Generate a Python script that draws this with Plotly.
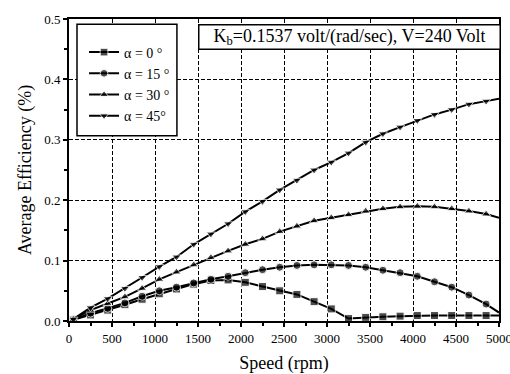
import plotly.graph_objects as go

speed = [50, 250, 450, 650, 850, 1050, 1250, 1450, 1650, 1850, 2050, 2250, 2450,
         2650, 2850, 3050, 3250, 3450, 3650, 3850, 4050, 4250, 4450, 4650, 4850, 5000]

eff_0 = [0.002, 0.010, 0.018, 0.027, 0.036, 0.045, 0.053, 0.061, 0.067, 0.068, 0.064, 0.057, 0.050,
         0.044, 0.032, 0.020, 0.004, 0.006, 0.007, 0.008, 0.009, 0.009, 0.009, 0.009, 0.009, 0.009]
eff_15 = [0.002, 0.013, 0.021, 0.030, 0.041, 0.050, 0.056, 0.063, 0.069, 0.074, 0.080, 0.085, 0.089,
          0.092, 0.093, 0.093, 0.092, 0.089, 0.084, 0.080, 0.074, 0.065, 0.056, 0.043, 0.028, 0.014]
eff_30 = [0.003, 0.018, 0.029, 0.040, 0.054, 0.069, 0.081, 0.093, 0.105, 0.116, 0.127, 0.136, 0.148,
          0.157, 0.166, 0.171, 0.176, 0.182, 0.186, 0.189, 0.190, 0.189, 0.186, 0.182, 0.177, 0.171]
eff_45 = [0.003, 0.022, 0.037, 0.054, 0.072, 0.090, 0.106, 0.127, 0.144, 0.161, 0.181, 0.198, 0.217,
          0.233, 0.250, 0.263, 0.278, 0.296, 0.310, 0.321, 0.332, 0.342, 0.350, 0.359, 0.364, 0.368]

names = ["α = 0 °", "α = 15 °", "α = 30 °", "α = 45°"]
symbols = ["square", "circle", "triangle-up", "triangle-down"]
series = [eff_0, eff_15, eff_30, eff_45]

x_ticks = [0, 500, 1000, 1500, 2000, 2500, 3000, 3500, 4000, 4500, 5000]
y_ticks = [0.0, 0.1, 0.2, 0.3, 0.4, 0.5]

serif = "Times New Roman, Liberation Serif, serif"
fig = go.Figure()
msizes = [8] * (len(speed) - 1) + [0]
for i, (name, sym, ys) in enumerate(zip(names, symbols, series)):
    fig.add_trace(go.Scatter(
        x=speed, y=ys, name=name, mode="lines+markers", legendgroup=f"g{i}",
        line=dict(color="black", width=2),
        marker=dict(symbol=sym, size=msizes, color="black"),
    ))

axis_common = dict(
    showline=True, linecolor="black", linewidth=2, mirror=True,
    showgrid=True, gridcolor="black", gridwidth=1, griddash="4px,2px",
    ticks="outside", ticklen=4, tickcolor="black", tickwidth=1.5,
    zeroline=False, automargin=False, ticklabeloverflow="allow",
    tickfont=dict(family=serif, size=13, color="black"),
)

fig.update_xaxes(
    range=[0, 5000], tickvals=x_ticks,
    minor=dict(dtick=250, ticks="outside", ticklen=3, tickcolor="black", showgrid=False),
    title=dict(text="Speed (rpm)", font=dict(family=serif, size=18, color="black"), standoff=12),
    **axis_common,
)
fig.update_yaxes(
    range=[0, 0.5], tickvals=y_ticks, tickformat=".1f",
    minor=dict(dtick=0.05, ticks="outside", ticklen=3, tickcolor="black", showgrid=False),
    title=dict(text="Average Efficiency (%)", font=dict(family=serif, size=18, color="black"), standoff=8),
    **axis_common,
)

# legend frame
fig.add_shape(type="rect", xref="paper", yref="paper",
              x0=0.0186, x1=0.251, y0=0.613, y1=0.983,
              line=dict(color="black", width=1.5), fillcolor="white", layer="above")

fig.add_annotation(
    xref="paper", yref="paper", x=1.005, y=0.985, xanchor="right", yanchor="top",
    text="K<sub>b</sub>=0.1537 volt/(rad/sec), V=240 Volt", showarrow=False,
    font=dict(family=serif, size=18, color="black"),
    width=298, height=21, align="center",
    bgcolor="white", bordercolor="black", borderwidth=1.5, borderpad=1,
)

fig.update_layout(
    width=510, height=374,
    margin=dict(l=69, r=11, t=19, b=53),
    paper_bgcolor="white", plot_bgcolor="white",
    font=dict(family=serif, color="black"),
    showlegend=True,
    legend=dict(
        x=0.035, y=0.942, xanchor="left", yanchor="top",
        bgcolor="rgba(0,0,0,0)", borderwidth=0,
        font=dict(family=serif, size=14, color="black"),
        itemwidth=30, tracegroupgap=0,
    ),
)

fig.write_html("out.html")
